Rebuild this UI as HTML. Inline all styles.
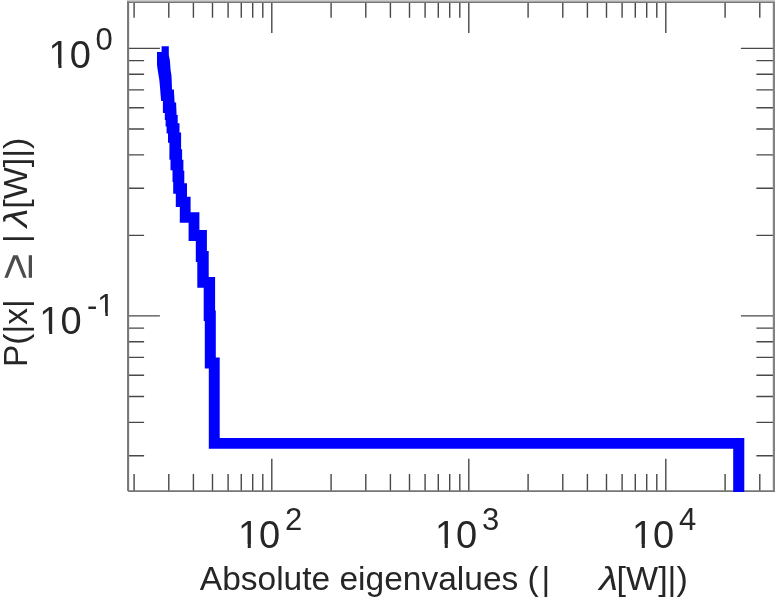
<!DOCTYPE html>
<html><head><meta charset="utf-8"><title>Eigenvalue CCDF</title>
<style>html,body{margin:0;padding:0;background:#fff;}svg{display:block;}</style>
</head><body>
<svg width="775" height="600" viewBox="0 0 775 600">
<rect x="0" y="0" width="775" height="600" fill="#fff"/>
<rect x="127" y="0" width="648" height="1.7" fill="#c9c9c9"/>
<path d="M134.10 2.20v15.6M134.10 491.10v-17.1M168.79 2.20v15.6M168.79 491.10v-17.1M193.41 2.20v15.6M193.41 491.10v-17.1M212.50 2.20v15.6M212.50 491.10v-17.1M228.10 2.20v15.6M228.10 491.10v-17.1M241.28 2.20v15.6M241.28 491.10v-17.1M252.71 2.20v15.6M252.71 491.10v-17.1M262.79 2.20v15.6M262.79 491.10v-17.1M271.80 2.20v30.8M271.80 491.10v-32.3M331.10 2.20v15.6M331.10 491.10v-17.1M365.79 2.20v15.6M365.79 491.10v-17.1M390.41 2.20v15.6M390.41 491.10v-17.1M409.50 2.20v15.6M409.50 491.10v-17.1M425.10 2.20v15.6M425.10 491.10v-17.1M438.28 2.20v15.6M438.28 491.10v-17.1M449.71 2.20v15.6M449.71 491.10v-17.1M459.79 2.20v15.6M459.79 491.10v-17.1M468.80 2.20v30.8M468.80 491.10v-32.3M528.10 2.20v15.6M528.10 491.10v-17.1M562.79 2.20v15.6M562.79 491.10v-17.1M587.41 2.20v15.6M587.41 491.10v-17.1M606.50 2.20v15.6M606.50 491.10v-17.1M622.10 2.20v15.6M622.10 491.10v-17.1M635.28 2.20v15.6M635.28 491.10v-17.1M646.71 2.20v15.6M646.71 491.10v-17.1M656.79 2.20v15.6M656.79 491.10v-17.1M665.80 2.20v30.8M665.80 491.10v-32.3M725.10 2.20v15.6M725.10 491.10v-17.1M759.79 2.20v15.6M759.79 491.10v-17.1M128.10 455.77h16M773.90 455.77h-17.5M128.10 422.35h16M773.90 422.35h-17.5M128.10 396.43h16M773.90 396.43h-17.5M128.10 375.24h16M773.90 375.24h-17.5M128.10 357.34h16M773.90 357.34h-17.5M128.10 341.82h16M773.90 341.82h-17.5M128.10 328.14h16M773.90 328.14h-17.5M128.10 315.90h31.8M773.90 315.90h-33M128.10 235.37h16M773.90 235.37h-17.5M128.10 188.27h16M773.90 188.27h-17.5M128.10 154.85h16M773.90 154.85h-17.5M128.10 128.93h16M773.90 128.93h-17.5M128.10 107.74h16M773.90 107.74h-17.5M128.10 89.84h16M773.90 89.84h-17.5M128.10 74.32h16M773.90 74.32h-17.5M128.10 60.64h16M773.90 60.64h-17.5M128.10 48.40h31.8M773.90 48.40h-33" stroke="#484848" stroke-width="1.4" fill="none"/>
<path d="M128.1 491.1V1.4000000000000001" stroke="#767676" stroke-width="2.1" fill="none"/>
<path d="M127.05 2.3000000000000003H775.1" stroke="#767676" stroke-width="1.6" fill="none"/>
<path d="M128.1 491.1H774.9" stroke="#767676" stroke-width="1.8" fill="none"/>
<path d="M774.1 2.2V491.1" stroke="#828282" stroke-width="2.6" fill="none"/>
<polygon fill="#0000ff" points="161.6,46.2 168.8,46.2 168.8,55.0 169.9,60.6 170.6,70.0 171.4,75.0 171.7,80.0 172.0,89.6 173.9,89.6 174.6,102.5 176.1,102.5 176.6,114.9 177.7,114.9 177.7,123.2 179.5,123.2 179.5,132.5 181.1,132.5 181.1,149.3 182.1,149.3 182.1,159.8 183.4,159.8 183.4,170.8 184.3,170.8 184.3,183.2 187.0,183.2 187.0,196.8 190.6,196.8 190.6,212.3 199.4,212.3 199.4,230.0 206.9,230.0 206.9,251.0 208.7,251.0 208.7,277.0 215.1,277.0 215.1,310.6 215.8,310.6 215.8,357.5 219.7,357.5 219.7,438.1 744.3,438.1 744.3,492.0 733.2,492.0 733.2,448.8 208.8,448.8 208.8,368.5 204.8,368.5 204.8,321.0 203.7,321.0 203.7,287.7 197.3,287.7 197.3,261.9 195.8,261.9 195.8,241.0 188.6,241.0 188.6,222.8 179.8,222.8 179.8,207.1 175.8,207.1 175.8,193.8 173.2,193.8 173.2,181.9 172.5,181.9 172.5,170.3 170.5,170.3 170.5,159.8 169.4,159.8 169.4,142.7 168.0,142.7 168.0,133.5 166.6,133.5 166.6,126.5 165.6,126.5 165.6,120.0 164.8,120.0 164.8,113.0 162.9,113.0 162.9,101.0 161.2,101.0 160.6,95.0 160.3,91.0 159.8,85.0 159.3,80.0 158.5,75.0 157.7,70.0 157.0,65.0 157.0,52.1 161.6,52.1"/>
<g font-family="'Liberation Sans', sans-serif" fill="#262626">
<text x="237.9" y="547.6" font-size="38">10</text>
<text x="285.0" y="529.6" font-size="31">2</text>
<text x="434.9" y="547.6" font-size="38">10</text>
<text x="482.0" y="529.6" font-size="31">3</text>
<text x="631.9" y="547.6" font-size="38">10</text>
<text x="679.0" y="529.6" font-size="31">4</text>
<text x="48.6" y="68" font-size="38">10</text>
<text x="95.6" y="49.9" font-size="31">0</text>
<text x="39.3" y="334" font-size="38">10</text>
<text x="87.0" y="315.6" font-size="31">-1</text>
<text x="199.8" y="590.2" font-size="33.5">Absolute eigenvalues (</text>
<text x="541.6" y="590.2" font-size="33.5">|</text>
<text transform="translate(599.3,590.4) scale(1.14,1)" font-size="33.5" font-style="italic">λ</text>
<text x="616.6" y="590.2" font-size="34">[W]|)</text>
<g transform="translate(26.7,367) rotate(-90)" font-size="33.5">
<text x="0" y="0">P(|x|</text>
<text x="87.7" y="5.4" font-size="46" fill="#4c4c4c">≥</text>
<text x="124" y="0">|</text>
<text transform="translate(139.7,0.3) scale(1.14,1)" font-style="italic">λ</text>
<text x="158.3" y="0" font-size="34">[W]|)</text>
</g>
</g>
<g fill="#fff"><rect x="240.10" y="544.06" width="7.64" height="4.24"/><rect x="250.81" y="544.06" width="7.06" height="4.24"/><rect x="437.10" y="544.06" width="7.64" height="4.24"/><rect x="447.81" y="544.06" width="7.06" height="4.24"/><rect x="634.10" y="544.06" width="7.64" height="4.24"/><rect x="644.81" y="544.06" width="7.06" height="4.24"/><rect x="50.80" y="64.46" width="7.64" height="4.24"/><rect x="61.51" y="64.46" width="7.06" height="4.24"/><rect x="41.50" y="330.46" width="7.64" height="4.24"/><rect x="52.21" y="330.46" width="7.06" height="4.24"/><rect x="98.99" y="312.58" width="6.36" height="3.72"/><rect x="107.86" y="312.58" width="5.89" height="3.72"/></g>
</svg>
</body></html>
